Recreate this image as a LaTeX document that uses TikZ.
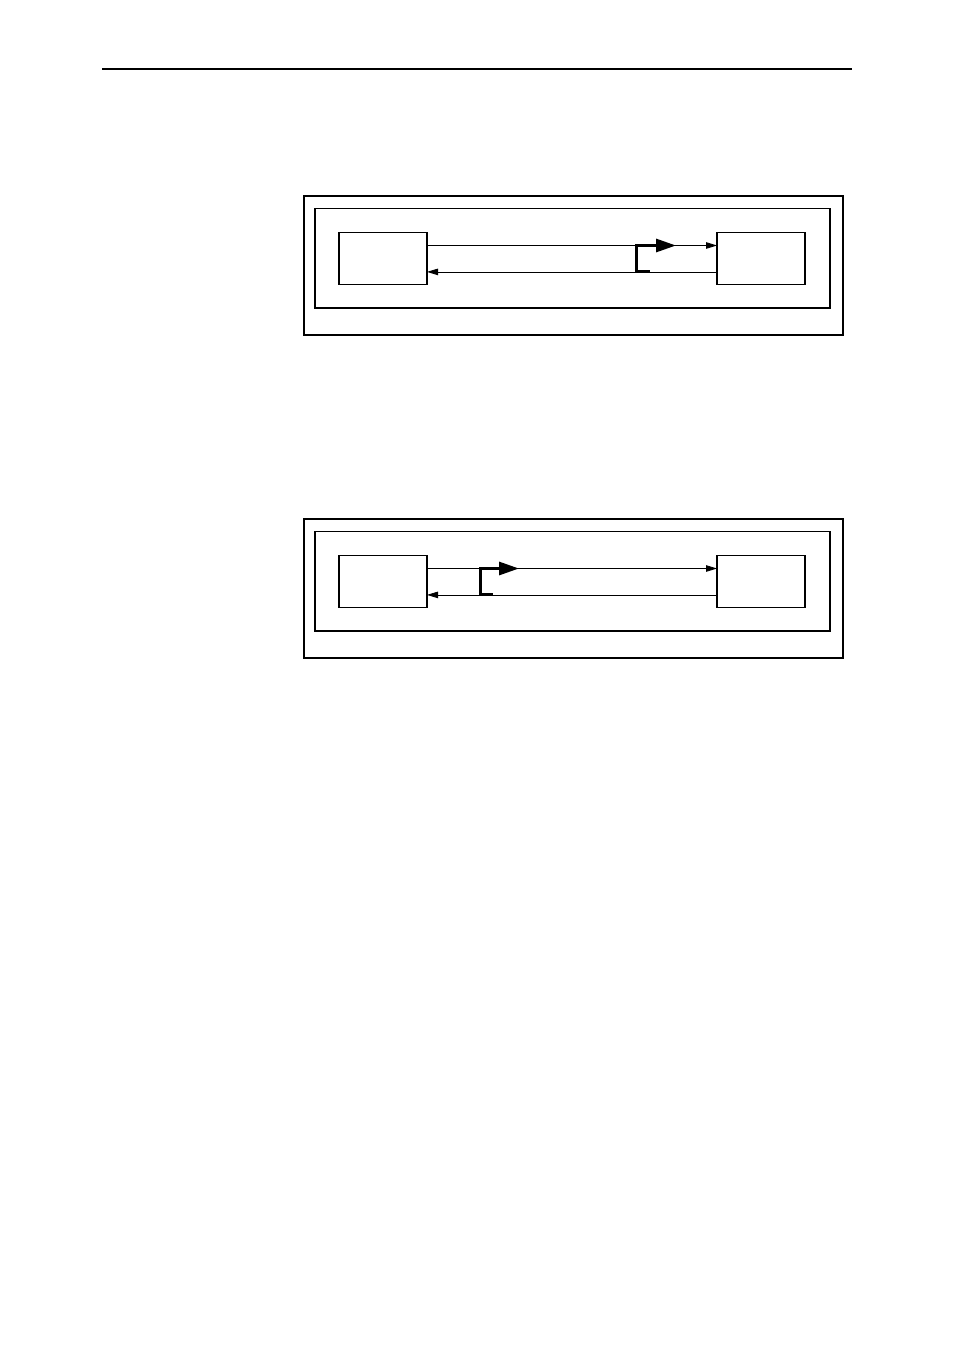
\documentclass[tikz,border=0pt]{standalone}
\usetikzlibrary{arrows.meta,positioning}
\begin{document}
\begin{tikzpicture}[x=1pt,y=-1pt]
  \tikzset{unit/.style={minimum width=\wid,minimum height=\hgt,inner sep=0pt,outer sep=0pt,line width=1.4pt,draw},
    wire/.style={line width=0.8pt,-{Triangle[length=11pt,width=6.5pt]}},
    bypass/.style={line width=3pt,-{Triangle[length=20pt,width=13pt]}}}
  \def\wid{88pt}\def\hgt{52pt}\def\gap{290pt}\def\off{13.2pt}
  \useasboundingbox (0,0) rectangle (954,1351);
  \draw[line width=2pt] (102,69) -- (852,69);
  %upper panel
  \draw[line width=1.2pt] (304,196) rectangle (843,335);
  \draw[line width=1.8pt] (315,208.5) rectangle (830,308);
  \node[unit] at (383,258.7) (srcA) {};
  \node[unit,right=\gap of srcA] (dstA) {};
  \draw[wire] ([yshift=\off]srcA.east) -- ([yshift=\off]dstA.west);
  \draw[wire] ([yshift=-\off]dstA.west) -- ([yshift=-\off]srcA.east);
  \coordinate (baseA) at (650,271.9);
  \coordinate (tipA) at (676,245.5);
  \draw[bypass] (baseA) -- ++(-13.5,0) |- (tipA);
  %lower panel
  \draw[line width=1.2pt] (304,519) rectangle (843,658);
  \draw[line width=1.8pt] (315,531.5) rectangle (830,631);
  \node[unit] at (383,581.7) (srcB) {};
  \node[unit,right=\gap of srcB] (dstB) {};
  \draw[wire] ([yshift=\off]srcB.east) -- ([yshift=\off]dstB.west);
  \draw[wire] ([yshift=-\off]dstB.west) -- ([yshift=-\off]srcB.east);
  \coordinate (baseB) at (493,594.9);
  \coordinate (tipB) at (519,568.5);
  \draw[bypass] (baseB) -- ++(-13,0) |- (tipB);
\end{tikzpicture}
\end{document}
